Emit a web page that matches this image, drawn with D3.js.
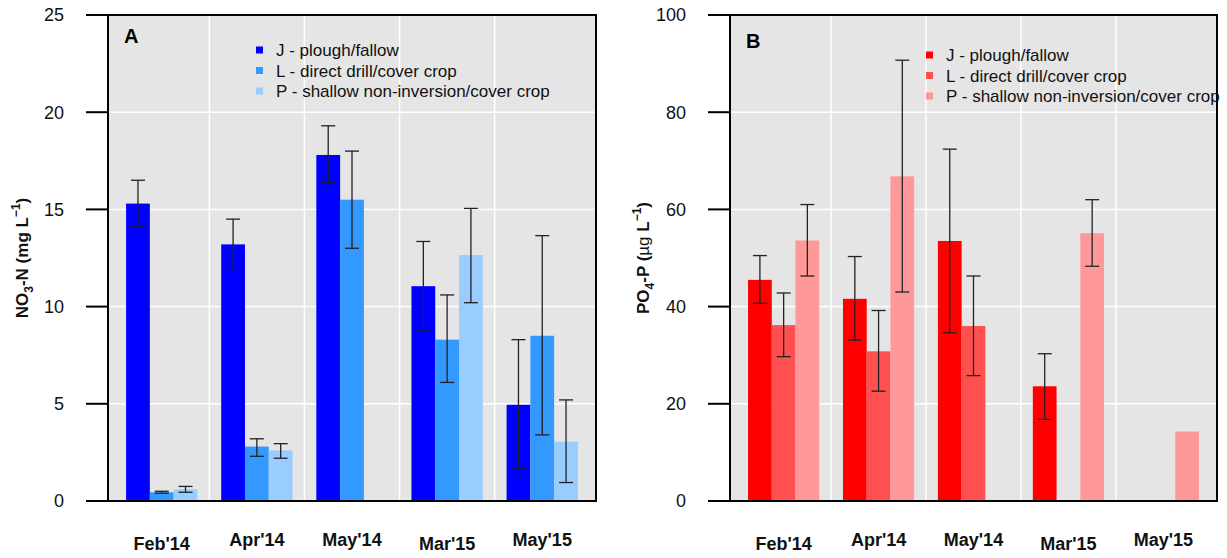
<!DOCTYPE html>
<html><head><meta charset="utf-8">
<script src="https://cdn.jsdelivr.net/npm/d3@7"></script>
<style>body{margin:0;background:#fff}svg{display:block;font-family:"Liberation Sans",Arial,sans-serif}</style>
</head><body>
<svg id="c" width="1227" height="558"></svg>
<script>
const categories = ["Feb'14","Apr'14","May'14","Mar'15","May'15"];
const seriesNames = ["J - plough/fallow","L - direct drill/cover crop","P - shallow non-inversion/cover crop"];

// Panel A: NO3-N (mg/L)
const no3J = [15.3, 13.2, 17.8, 11.05, 4.95];
const no3L = [0.45, 2.8, 15.5, 8.3, 8.5];
const no3P = [0.6, 2.6, null, 12.65, 3.05];
const no3Jlo = [14.1, 12.0, 16.4, 8.8, 1.65];
const no3Jhi = [16.5, 14.5, 19.3, 13.35, 8.3];
const no3Llo = [0.4, 2.3, 13.0, 6.1, 3.4];
const no3Lhi = [0.5, 3.2, 18.0, 10.6, 13.65];
const no3Plo = [0.45, 2.2, null, 10.2, 0.95];
const no3Phi = [0.75, 2.95, null, 15.05, 5.2];
const no3Ticks = [0,5,10,15,20,25];

// Panel B: PO4-P (ug/L)
const po4J = [45.5, 41.6, 53.5, 23.6, null];
const po4L = [36.2, 30.8, 36.0, null, null];
const po4P = [53.6, 66.8, null, 55.1, 14.3];
const po4Jlo = [40.7, 33.1, 34.6, 16.8, null];
const po4Jhi = [50.5, 50.3, 72.4, 30.3, null];
const po4Llo = [29.7, 22.6, 25.8, null, null];
const po4Lhi = [42.8, 39.2, 46.3, null, null];
const po4Plo = [46.3, 43.0, null, 48.3, null];
const po4Phi = [61.0, 90.7, null, 62.0, null];
const po4Ticks = [0,20,40,60,80,100];

const blues = ["#0000FF","#3399FF","#99CCFF"];
const reds = ["#FF0000","#FF5050","#FF9999"];

const svg = d3.select("#c");

function panel(o){
  const g = svg.append("g");
  const x = d3.scaleLinear().domain([0.24, 20.76]).range([o.left, o.right]);
  const y = d3.scaleLinear().domain(o.domain).range([501, 15]);
  // background
  g.append("rect").attr("x",o.left).attr("y",15).attr("width",o.right-o.left).attr("height",501-15).attr("fill","#E5E5E5");
  // horizontal grid
  g.selectAll(".hg").data(o.ticks.slice(1,-1)).join("line")
    .attr("x1",o.left).attr("x2",o.right).attr("y1",d=>y(d)).attr("y2",d=>y(d))
    .attr("stroke","#fff").attr("stroke-width",1.5);
  // vertical grid between groups
  g.selectAll(".vg").data(categories.slice(1).map((c,i)=>4*(i+1)+0.5)).join("line")
    .attr("x1",d=>x(d)).attr("x2",d=>x(d)).attr("y1",15).attr("y2",501)
    .attr("stroke","#fff").attr("stroke-width",1.5);
  // bars
  const bars = [];
  o.series.forEach((s,j)=>{
    s.v.forEach((v,i)=>{
      if(v==null) return;
      bars.push({i,j,v,lo:s.lo[i],hi:s.hi[i],color:o.colors[j]});
    });
  });
  g.selectAll(".bar").data(bars).join("rect")
    .attr("x",d=>x(4*d.i+1+d.j)).attr("width",d=>x(4*d.i+2+d.j)-x(4*d.i+1+d.j))
    .attr("y",d=>y(d.v)).attr("height",d=>y(0)-y(d.v)).attr("fill",d=>d.color);
  const eb = bars.filter(d=>d.lo!=null && d.hi!=null);
  const cx = d=>x(4*d.i+1.5+d.j);
  const eg = g.append("g").attr("stroke","#222").attr("stroke-width",1.3).attr("fill","none");
  eg.selectAll(".ev").data(eb).join("line").attr("x1",cx).attr("x2",cx).attr("y1",d=>y(d.lo)).attr("y2",d=>y(d.hi));
  eg.selectAll(".et").data(eb).join("line").attr("x1",d=>cx(d)-7).attr("x2",d=>cx(d)+7).attr("y1",d=>y(d.hi)).attr("y2",d=>y(d.hi));
  eg.selectAll(".eb").data(eb).join("line").attr("x1",d=>cx(d)-7).attr("x2",d=>cx(d)+7).attr("y1",d=>y(d.lo)).attr("y2",d=>y(d.lo));
  // box
  g.append("rect").attr("x",o.left).attr("y",15).attr("width",o.right-o.left).attr("height",501-15)
    .attr("fill","none").attr("stroke","#000").attr("stroke-width",2);
  // y ticks
  g.selectAll(".yt").data(o.ticks).join("line")
    .attr("x1",o.left-22).attr("x2",o.left).attr("y1",d=>y(d)).attr("y2",d=>y(d))
    .attr("stroke","#000").attr("stroke-width",2);
  g.selectAll(".yl").data(o.ticks).join("text")
    .attr("x",o.left-44).attr("y",d=>y(d)).attr("dy","0.36em").attr("text-anchor","end")
    .attr("font-size",18).attr("fill","#111").text(d=>d);
  // x labels
  g.selectAll(".xl").data(categories).join("text")
    .attr("x",(d,i)=>x(4*i+2.5)).attr("y",(d)=>/[pygq]/.test(d)?546:550)
    .attr("text-anchor","middle").attr("font-size",18).attr("font-weight","bold").attr("fill","#111").text(d=>d);
  // panel letter
  g.append("text").attr("x",o.letterX).attr("y",o.letterY).attr("font-size",20).attr("font-weight","bold").text(o.letter);
  // legend
  const lg = g.append("g");
  seriesNames.forEach((n,j)=>{
    const yy = o.legY + j*20.5;
    lg.append("rect").attr("x",o.legX).attr("y",yy-3.5).attr("width",7).attr("height",7).attr("fill",o.colors[j]);
    lg.append("text").attr("x",o.legX+20).attr("y",yy).attr("dy","0.36em").attr("font-size",17).attr("fill","#111").text(n);
  });
  // y title
  const t = g.append("text").attr("transform",`translate(${o.titleX},258) rotate(-90)`)
    .attr("text-anchor","middle").attr("font-size",17).attr("font-weight","bold").attr("fill","#111");
  o.title(t);
}

panel({left:108,right:596,domain:[0,25],ticks:no3Ticks,colors:blues,
  series:[{v:no3J,lo:no3Jlo,hi:no3Jhi},{v:no3L,lo:no3Llo,hi:no3Lhi},{v:no3P,lo:no3Plo,hi:no3Phi}],
  letter:"A",letterX:124,letterY:43,legX:256,legY:50,titleX:28,
  title:t=>{
    t.append("tspan").text("NO");
    t.append("tspan").attr("font-size",12).attr("dy",5).text("3");
    t.append("tspan").attr("dy",-5).text("-N (mg L");
    t.append("tspan").attr("font-size",12).attr("dy",-8).text("\u22121");
    t.append("tspan").attr("dy",8).text(")");
  }});

panel({left:730,right:1217,domain:[0,100],ticks:po4Ticks,colors:reds,
  series:[{v:po4J,lo:po4Jlo,hi:po4Jhi},{v:po4L,lo:po4Llo,hi:po4Lhi},{v:po4P,lo:po4Plo,hi:po4Phi}],
  letter:"B",letterX:746,letterY:48,legX:926,legY:55,titleX:649,
  title:t=>{
    t.append("tspan").text("PO");
    t.append("tspan").attr("font-size",12).attr("dy",5).text("4");
    t.append("tspan").attr("dy",-5).text("-P (");
    t.append("tspan").attr("font-weight","normal").text("\u00B5g");
    t.append("tspan").text(" L");
    t.append("tspan").attr("font-size",12).attr("dy",-8).text("\u22121");
    t.append("tspan").attr("dy",8).text(")");
  }});
</script>
</body></html>
